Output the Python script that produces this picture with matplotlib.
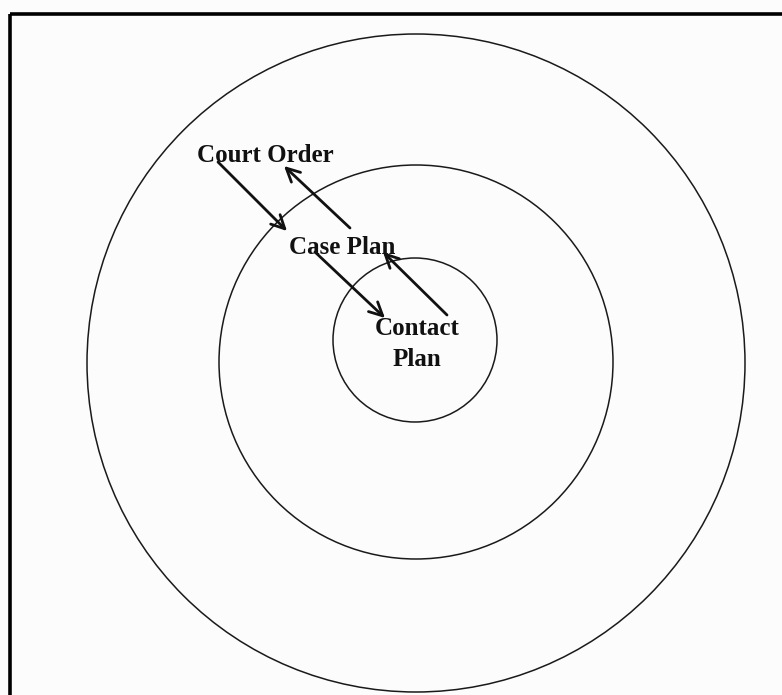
import matplotlib
matplotlib.use("Agg")
import matplotlib.pyplot as plt
from matplotlib.patches import Circle

# Diagram content
labels = ["Court Order", "Case Plan", "Contact\nPlan"]
ring_radii = [329, 197, 82]          # outer, middle, inner (pixels)
ring_centers = [(416, 363), (416, 362), (415, 340)]
label_pos = [(265, 155), (342, 247), (417, 344)]
# arrows: (start, end) in pixel coords
arrows = [
    ((218, 162), (287, 231)),
    ((350, 228), (284, 166)),
    ((315, 252), (385, 318)),
    ((447, 315), (383, 252)),
]

W, H = 782, 695
fig = plt.figure(figsize=(W / 100, H / 100), dpi=100)
fig.patch.set_facecolor("#fcfcfd")
ax = fig.add_axes([0, 0, 1, 1])
ax.set_xlim(0, W)
ax.set_ylim(H, 0)
ax.set_aspect("equal")
ax.axis("off")

# frame (top and left edges visible)
ax.plot([10, W + 5], [14, 14], color="black", lw=2.6, solid_capstyle="butt")
ax.plot([10, 10], [14, H + 5], color="black", lw=2.6, solid_capstyle="butt")

for (cx, cy), r in zip(ring_centers, ring_radii):
    ax.add_patch(Circle((cx, cy), r, fill=False, edgecolor="#1a1a1a", lw=1.1))

for text, (x, y) in zip(labels, label_pos):
    ax.text(x, y, text, ha="center", va="center", fontsize=18,
            fontfamily="Liberation Serif", fontweight="bold", color="#111111",
            linespacing=1.45)

for (s, e) in arrows:
    ax.annotate("", xy=e, xytext=s,
                arrowprops=dict(arrowstyle="->", lw=2.0, color="#111111",
                                mutation_scale=24, shrinkA=0, shrinkB=0))

fig.savefig("out.png", dpi=100, facecolor=fig.get_facecolor())
